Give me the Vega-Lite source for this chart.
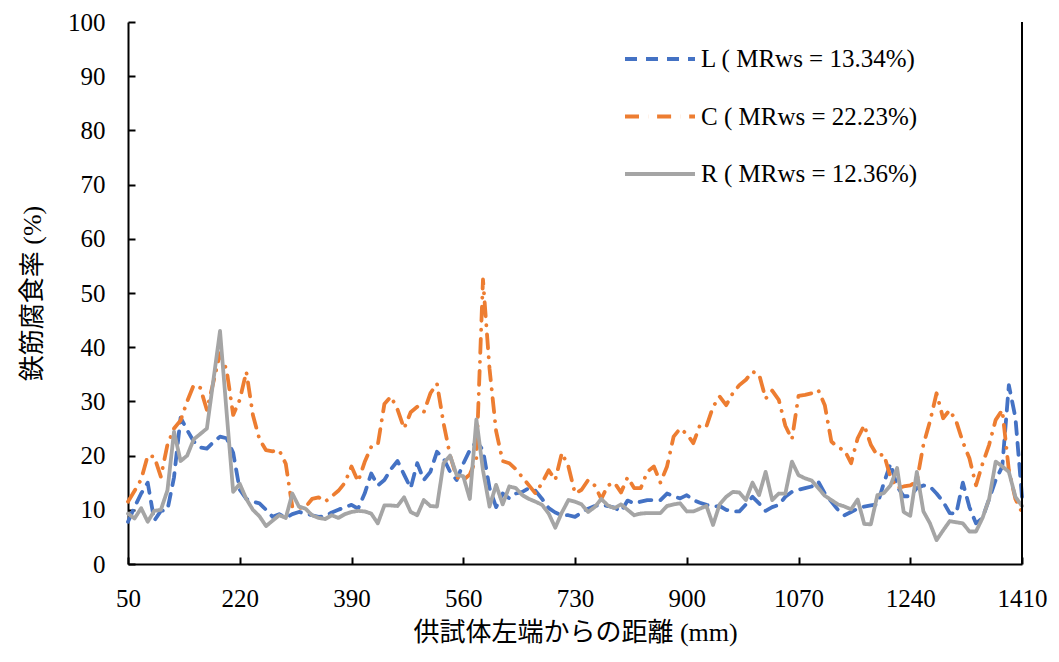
{
  "$schema": "https://vega.github.io/schema/vega-lite/v6.json",
  "width": 894,
  "height": 542,
  "autosize": {"type": "none"},
  "padding": {"left": 128, "top": 22, "right": 37, "bottom": 98},
  "background": "white",
  "config": {
    "view": {"stroke": null},
    "font": "Liberation Serif",
    "axis": {
      "grid": false,
      "domainColor": "black",
      "domainWidth": 2,
      "tickColor": "black",
      "tickWidth": 2,
      "tickSize": -7,
      "labelFont": "Liberation Serif",
      "labelFontSize": 25,
      "labelFontWeight": "normal",
      "labelColor": "black",
      "labelFlush": false,
      "titleFont": "Liberation Serif, Noto Sans CJK JP",
      "titleFontSize": 26,
      "titleFontWeight": "normal",
      "titleColor": "black"
    }
  },
  "data": {
    "values": [
      {"x": 50, "L": 7.8, "C": 11.5, "R": 9.3},
      {"x": 60, "L": 10.5, "C": 13.5, "R": 8.4},
      {"x": 70, "L": 13, "C": 15.6, "R": 10.3},
      {"x": 80, "L": 15, "C": 20, "R": 7.8},
      {"x": 90, "L": 8, "C": 19.8, "R": 9.8},
      {"x": 100, "L": 9.8, "C": 16.1, "R": 10},
      {"x": 110, "L": 10, "C": 22, "R": 13.6},
      {"x": 120, "L": 16, "C": 25, "R": 24.4},
      {"x": 130, "L": 27, "C": 26.5, "R": 19},
      {"x": 140, "L": 24.7, "C": 30, "R": 20},
      {"x": 150, "L": 22.6, "C": 33, "R": 23},
      {"x": 160, "L": 21.5, "C": 32.5, "R": 24},
      {"x": 170, "L": 21.3, "C": 28.4, "R": 25},
      {"x": 180, "L": 22.5, "C": 33.6, "R": 34},
      {"x": 190, "L": 23.5, "C": 38.9, "R": 43},
      {"x": 200, "L": 23.2, "C": 35.8, "R": 28},
      {"x": 210, "L": 20.5, "C": 27.5, "R": 13.3},
      {"x": 220, "L": 13.7, "C": 30.3, "R": 14.8},
      {"x": 230, "L": 12, "C": 35.5, "R": 12},
      {"x": 240, "L": 11.5, "C": 27.5, "R": 10},
      {"x": 250, "L": 11.2, "C": 23, "R": 8.8},
      {"x": 260, "L": 10, "C": 21, "R": 7},
      {"x": 270, "L": 8.7, "C": 20.8, "R": 8},
      {"x": 280, "L": 9.2, "C": 21, "R": 9},
      {"x": 290, "L": 8.5, "C": 18.5, "R": 8.5},
      {"x": 300, "L": 9.2, "C": 10.5, "R": 13},
      {"x": 310, "L": 9.6, "C": 10.3, "R": 10.6},
      {"x": 320, "L": 9.3, "C": 10.5, "R": 10.2},
      {"x": 330, "L": 9, "C": 12, "R": 9},
      {"x": 340, "L": 8.7, "C": 12.3, "R": 8.5},
      {"x": 350, "L": 8.8, "C": 11.5, "R": 8.3},
      {"x": 360, "L": 9.5, "C": 12.5, "R": 9},
      {"x": 370, "L": 10, "C": 13.5, "R": 8.5},
      {"x": 380, "L": 10.5, "C": 15, "R": 9.2},
      {"x": 390, "L": 10.9, "C": 18, "R": 9.6},
      {"x": 400, "L": 10.2, "C": 15.2, "R": 9.8},
      {"x": 410, "L": 13, "C": 18.8, "R": 9.7},
      {"x": 420, "L": 16.7, "C": 21.6, "R": 9.3},
      {"x": 430, "L": 14.5, "C": 22, "R": 7.5},
      {"x": 440, "L": 15.5, "C": 29.5, "R": 10.8},
      {"x": 450, "L": 17.5, "C": 30.9, "R": 10.8},
      {"x": 460, "L": 19, "C": 28.5, "R": 10.7},
      {"x": 470, "L": 16.5, "C": 25, "R": 12.3},
      {"x": 480, "L": 14, "C": 28, "R": 9.6},
      {"x": 490, "L": 18.6, "C": 29, "R": 9},
      {"x": 500, "L": 15.5, "C": 28, "R": 11.8},
      {"x": 510, "L": 17, "C": 31.5, "R": 10.7},
      {"x": 520, "L": 20.7, "C": 33.3, "R": 10.6},
      {"x": 530, "L": 19.5, "C": 26, "R": 18.6},
      {"x": 540, "L": 17, "C": 20, "R": 20},
      {"x": 550, "L": 15.5, "C": 16, "R": 16.4},
      {"x": 560, "L": 18.5, "C": 15.5, "R": 16.2},
      {"x": 570, "L": 21, "C": 16.5, "R": 12},
      {"x": 580, "L": 22.6, "C": 19.5, "R": 26.7},
      {"x": 590, "L": 21, "C": 52.5, "R": 17.3},
      {"x": 600, "L": 14, "C": 36, "R": 10.6},
      {"x": 610, "L": 10.5, "C": 24.5, "R": 14.6},
      {"x": 620, "L": 13, "C": 19, "R": 11},
      {"x": 630, "L": 12.1, "C": 18.6, "R": 14.3},
      {"x": 640, "L": 13, "C": 17.5, "R": 14},
      {"x": 650, "L": 13.3, "C": 16, "R": 12.7},
      {"x": 660, "L": 14, "C": 14.5, "R": 12},
      {"x": 670, "L": 13.5, "C": 13, "R": 11.5},
      {"x": 680, "L": 12, "C": 15, "R": 10.9},
      {"x": 690, "L": 10.3, "C": 17.3, "R": 9.3},
      {"x": 700, "L": 9.5, "C": 15.5, "R": 6.7},
      {"x": 710, "L": 9, "C": 20.5, "R": 9.5},
      {"x": 720, "L": 9, "C": 18, "R": 11.8},
      {"x": 730, "L": 8.7, "C": 13, "R": 11.5},
      {"x": 740, "L": 9.5, "C": 13.7, "R": 11},
      {"x": 750, "L": 10.2, "C": 15.5, "R": 9.6},
      {"x": 760, "L": 10.7, "C": 14.5, "R": 10.5},
      {"x": 770, "L": 10.9, "C": 12, "R": 12},
      {"x": 780, "L": 10.7, "C": 14.5, "R": 10.8},
      {"x": 790, "L": 10.4, "C": 15, "R": 10.3},
      {"x": 800, "L": 9.7, "C": 13.2, "R": 11},
      {"x": 810, "L": 11.7, "C": 16, "R": 10},
      {"x": 820, "L": 11.2, "C": 14, "R": 9},
      {"x": 830, "L": 11.5, "C": 14, "R": 9.3},
      {"x": 840, "L": 11.8, "C": 17, "R": 9.4},
      {"x": 850, "L": 11.8, "C": 18, "R": 9.4},
      {"x": 860, "L": 11.8, "C": 15, "R": 9.4},
      {"x": 870, "L": 13, "C": 18, "R": 10.7},
      {"x": 880, "L": 12.5, "C": 23.5, "R": 11},
      {"x": 890, "L": 12.1, "C": 25, "R": 11.2},
      {"x": 900, "L": 12.7, "C": 24, "R": 9.7},
      {"x": 910, "L": 11.8, "C": 22.3, "R": 9.7},
      {"x": 920, "L": 11.3, "C": 25.6, "R": 10.2},
      {"x": 930, "L": 10.9, "C": 25.4, "R": 10.7},
      {"x": 940, "L": 10.6, "C": 29, "R": 7.2},
      {"x": 950, "L": 10.7, "C": 30.9, "R": 11},
      {"x": 960, "L": 10, "C": 29.3, "R": 12.4},
      {"x": 970, "L": 9.7, "C": 31.5, "R": 13.3},
      {"x": 980, "L": 9.7, "C": 33, "R": 13.2},
      {"x": 990, "L": 11, "C": 34, "R": 11.8},
      {"x": 1000, "L": 12.4, "C": 35.5, "R": 15},
      {"x": 1010, "L": 11.2, "C": 35, "R": 12.7},
      {"x": 1020, "L": 9.8, "C": 30.5, "R": 17},
      {"x": 1030, "L": 10.5, "C": 32, "R": 11.8},
      {"x": 1040, "L": 10.9, "C": 30.3, "R": 13},
      {"x": 1050, "L": 12.4, "C": 25.5, "R": 13},
      {"x": 1060, "L": 13.3, "C": 23, "R": 18.9},
      {"x": 1070, "L": 13.7, "C": 31, "R": 16.4},
      {"x": 1080, "L": 14, "C": 31.2, "R": 15.8},
      {"x": 1090, "L": 14.3, "C": 31.5, "R": 15.4},
      {"x": 1100, "L": 15.2, "C": 32.1, "R": 14},
      {"x": 1110, "L": 13, "C": 29.3, "R": 12.6},
      {"x": 1120, "L": 11.5, "C": 22.6, "R": 11.8},
      {"x": 1130, "L": 10, "C": 21.5, "R": 11},
      {"x": 1140, "L": 9, "C": 21, "R": 10.6},
      {"x": 1150, "L": 9.6, "C": 18.6, "R": 10.1},
      {"x": 1160, "L": 10.2, "C": 23.2, "R": 11.9},
      {"x": 1170, "L": 10.6, "C": 25.6, "R": 7.4},
      {"x": 1180, "L": 10.8, "C": 22, "R": 7.3},
      {"x": 1190, "L": 11, "C": 20, "R": 12.7},
      {"x": 1200, "L": 15, "C": 20.2, "R": 13.1},
      {"x": 1210, "L": 18.5, "C": 16, "R": 14.5},
      {"x": 1220, "L": 14.3, "C": 14, "R": 17.7},
      {"x": 1230, "L": 12.5, "C": 14.3, "R": 9.6},
      {"x": 1240, "L": 12.5, "C": 14.5, "R": 8.9},
      {"x": 1250, "L": 14, "C": 15.2, "R": 17},
      {"x": 1260, "L": 14.5, "C": 22, "R": 9.7},
      {"x": 1270, "L": 14.3, "C": 26.3, "R": 7.5},
      {"x": 1280, "L": 13, "C": 31.5, "R": 4.4},
      {"x": 1290, "L": 11.5, "C": 26.9, "R": 6.2},
      {"x": 1300, "L": 9.4, "C": 28.4, "R": 7.9},
      {"x": 1310, "L": 9.3, "C": 26.3, "R": 7.7},
      {"x": 1320, "L": 15, "C": 22.5, "R": 7.5},
      {"x": 1330, "L": 10.5, "C": 19.5, "R": 6},
      {"x": 1340, "L": 7.5, "C": 14.5, "R": 6},
      {"x": 1350, "L": 8.5, "C": 18.5, "R": 8.5},
      {"x": 1360, "L": 12, "C": 22, "R": 12},
      {"x": 1370, "L": 15.5, "C": 26.6, "R": 18.9},
      {"x": 1380, "L": 18, "C": 28.4, "R": 18},
      {"x": 1390, "L": 33, "C": 17.3, "R": 17},
      {"x": 1400, "L": 27, "C": 12, "R": 12.4},
      {"x": 1410, "L": 12.4, "C": 9.5, "R": 10.7}
    ]
  },
  "layer": [
    {
      "transform": [{"fold": ["L", "C", "R"], "as": ["series", "v"]}],
      "mark": {"type": "line", "strokeWidth": 3.8, "strokeCap": "round", "strokeJoin": "round"},
      "encoding": {
        "x": {
          "field": "x",
          "type": "quantitative",
          "scale": {"domain": [50, 1410], "nice": false, "zero": false},
          "axis": {
            "values": [50, 220, 390, 560, 730, 900, 1070, 1240, 1410],
            "format": "d",
            "labelPadding": 29,
            "title": "供試体左端からの距離 (mm)",
            "titlePadding": 8
          }
        },
        "y": {
          "field": "v",
          "type": "quantitative",
          "scale": {"domain": [0, 100], "nice": false},
          "axis": {
            "values": [0, 10, 20, 30, 40, 50, 60, 70, 80, 90, 100],
            "labelPadding": 30,
            "title": "鉄筋腐食率 (%)",
            "titlePadding": 22
          }
        },
        "color": {
          "field": "series",
          "type": "nominal",
          "sort": ["L", "C", "R"],
          "scale": {"domain": ["L", "C", "R"], "range": ["#4472C4", "#ED7D31", "#A5A5A5"]},
          "legend": {
            "title": null,
            "orient": "none",
            "legendX": 495,
            "legendY": 0,
            "symbolType": "stroke",
            "symbolSize": 4900,
            "symbolStrokeWidth": 4,
            "labelFont": "Liberation Serif",
            "labelFontSize": 25,
            "labelColor": "black",
            "labelOffset": 4,
            "labelLimit": 400,
            "rowPadding": 7.5,
            "labelExpr": "datum.label == 'L' ? 'L ( MRws = 13.34%)' : datum.label == 'C' ? 'C ( MRws = 22.23%)' : 'R ( MRws = 12.36%)'"
          }
        },
        "strokeDash": {
          "field": "series",
          "type": "nominal",
          "sort": ["L", "C", "R"],
          "scale": {"domain": ["L", "C", "R"], "range": [[12, 9], [14, 9, 0.1, 9], [1, 0]]}
        }
      }
    },
    {
      "mark": {"type": "rule", "color": "black", "strokeWidth": 2},
      "encoding": {
        "x": {"datum": 1410, "type": "quantitative"},
        "y": {"datum": 0, "type": "quantitative"},
        "y2": {"datum": 100}
      }
    }
  ]
}
